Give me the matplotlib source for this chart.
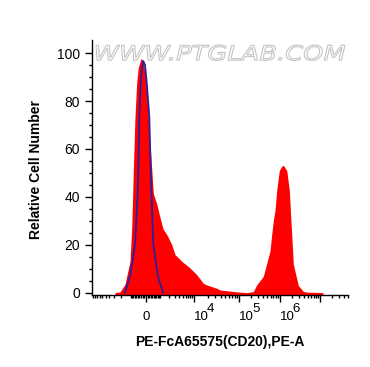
import numpy as np
import matplotlib
matplotlib.use('Agg')
import matplotlib.pyplot as plt
from matplotlib.textpath import TextPath
from matplotlib.patches import PathPatch
from matplotlib.font_manager import FontProperties
from matplotlib.transforms import Affine2D

plt.rcParams['font.family'] = ['Liberation Sans', 'DejaVu Sans']

# stained sample (red filled histogram), fluorescence vs relative cell number
sample_x = [-2860, -2100, -1520, -1050, -915, -840, -795, -675, -560, -457, -291, -156,
            0, 145, 353, 475, 724, 996, 1283, 1692, 2398, 2988, 4605, 7781, 11480,
            16100, 19170, 31970, 37840, 88900, 155000, 225000, 273000, 398000, 582000,
            642000, 703000, 773000, 852000, 989000, 1130000, 1240000, 1510000, 1750000,
            1900000, 2000000, 2190000, 2410000, 2910000, 3870000, 4700000, 11800000]
sample_y = [0, 0.3, 3.4, 13.1, 27.1, 41.4, 51, 73.5, 87.8, 94, 97.8, 96.6,
            87.8, 73.5, 53, 41.4, 37.1, 31.4, 26.6, 24.3, 20.1, 15.9, 13.1, 10.3, 7.5,
            3.9, 3.2, 1.8, 1.1, 0.3, 0, 0.4, 3.2, 6.8, 17.3,
            24.3, 30, 34.2, 42.6, 51, 52.7, 53.2, 51, 42.6,
            31, 24.5, 12, 8.9, 3, 0.5, 0.2, 0]

# unstained control (blue outline)
control_x = [-1520, -1050, -675, -520, -457, -394, -309, -230, -156, -57, 44, 209, 300, 475, 852, 1311]
control_y = [0, 6.8, 20, 38, 51, 73.4, 87.8, 94, 96.7, 95, 87.8, 73.4, 51, 20, 6, 0]

x_ticks = [0, 1e4, 1e5, 1e6, 1e7]
x_labels = ['0', '10', '10', '10', '']
x_exponents = ['', '4', '5', '6', '']
y_ticks = [0, 20, 40, 60, 80, 100]

xlabel = 'PE-FcA65575(CD20),PE-A'
ylabel = 'Relative Cell Number'
watermark = 'WWW.PTGLAB.COM'

# biexponential-like axis: arcsinh, with decade widths as on the instrument plot
C = 1011.0
scale_vals = np.array([-1e6, -10870, 0, 1e4, 1e5, 1e6, 1e7, 5.05e7, 1e9])
scale_pos = np.array([-79.5, 0, 54, 102, 147, 187.5, 228, 256, 307.6])
scale_asinh = np.arcsinh(scale_vals / C)

def fwd(x):
    return np.interp(np.arcsinh(np.asarray(x, dtype=float) / C), scale_asinh, scale_pos)

def inv(p):
    return C * np.sinh(np.interp(np.asarray(p, dtype=float), scale_pos, scale_asinh))

W, H = 370, 367
fig = plt.figure(figsize=(W / 100, H / 100), dpi=100)
ax = fig.add_axes([92 / W, 1 - 295 / H, 256 / W, 255 / H])
ax.patch.set_visible(False)

ax.set_xscale('function', functions=(fwd, inv))
ax.set_xlim(-10870, 5.05e7)
ax.set_ylim(-1, 105.5)

ax.fill_between(sample_x, sample_y, -1, color='#ff0000', lw=0, zorder=2)
ax.plot(control_x, control_y, color='#2a1f9c', lw=1.3, zorder=3)

for s in ['top', 'right']:
    ax.spines[s].set_visible(False)
for s in ['left', 'bottom']:
    ax.spines[s].set_linewidth(1.0)

# ticks
ax.set_yticks(y_ticks)
ax.set_yticks(np.arange(0, 101, 5), minor=True)
ax.set_xticks(x_ticks)
ax.set_xticklabels(x_labels)
minor = []
for d in [2, 3, 4, 5, 6, 7]:
    for k in range(1, 10):
        v = k * 10 ** d
        if v not in x_ticks and v < 5.05e7:
            minor.append(v)
for d in [2, 3]:
    for k in range(1, 10):
        minor.append(-k * 10 ** d)
minor.append(-10000)
ax.set_xticks(minor, minor=True)

ax.tick_params(axis='both', which='major', direction='out', length=5, width=1)
ax.tick_params(axis='both', which='minor', direction='out', length=2.5, width=1)
ax.tick_params(axis='y', labelsize=10, pad=3.5)
ax.tick_params(axis='x', labelsize=9.5, pad=6.5)
for lab, txt in zip(ax.get_xticklabels(), x_labels):
    lab.set_ha('center' if txt == '0' else 'left')

for t, e in zip(x_ticks, x_exponents):
    if e:
        ax.annotate(e, xy=(t, 0), xycoords=ax.get_xaxis_transform(),
                    xytext=(13, -17), textcoords='offset pixels',
                    ha='left', va='baseline', fontsize=9.5)

fig.text(36 / W, 1 - 170 / H, ylabel, rotation=90, ha='center', va='center',
         fontsize=10, fontweight='bold')
fig.text(220 / W, 1 - 342 / H, xlabel, ha='center', va='center',
         fontsize=10, fontweight='bold')

# watermark stretched into its box
tp = TextPath((0, 0), watermark, size=10,
              prop=FontProperties(family='DejaVu Sans', style='oblique'))
ext = tp.get_extents()
x0, x1 = 96 / W, 345 / W
y0, y1 = 1 - 60.5 / H, 1 - 45 / H
tr = Affine2D().translate(-ext.x0, -ext.y0).scale((x1 - x0) / ext.width, (y1 - y0) / ext.height).translate(x0, y0)
wm = PathPatch(tr.transform_path(tp), facecolor='white', edgecolor='#c4c4c4', lw=0.8,
               transform=fig.transFigure, zorder=-1)
fig.add_artist(wm)

fig.savefig('out.png', dpi=100)
